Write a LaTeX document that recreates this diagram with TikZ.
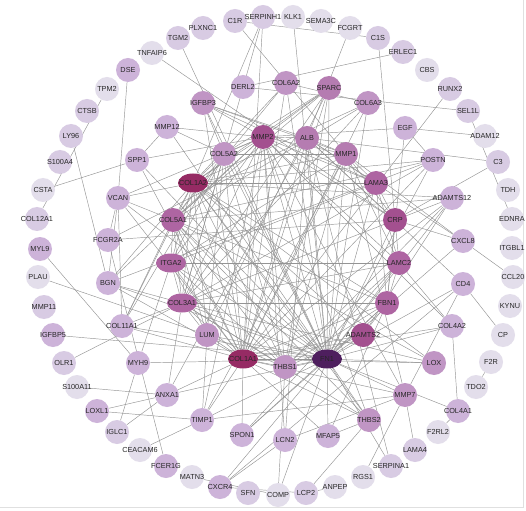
\documentclass[tikz,border=0pt]{standalone}
\usepackage{fontspec}
\newfontfamily\genefont{Liberation Sans}
\usepackage{tikz}
\usetikzlibrary{shapes.geometric, backgrounds}
\definecolor{lvA}{HTML}{E3DEEB}
\definecolor{lvB}{HTML}{D8CBE3}
\definecolor{lvC}{HTML}{CDB3D9}
\definecolor{lvD}{HTML}{C095C4}
\definecolor{lvDD}{HTML}{B57CB1}
\definecolor{lvE}{HTML}{AE65A2}
\definecolor{lvEE}{HTML}{A3508F}
\definecolor{lvF}{HTML}{962B64}
\definecolor{lvG}{HTML}{4E1F5E}

% gene/x/y, grouped by shade
\def\tierA{TNFAIP6/152/53, TPM2/107/89, CSTA/43/190, PLAU/38/277, S100A11/77/387,
  CEACAM6/140/450, MATN3/192/477, COMP/278/495, ANPEP/335/487, RGS1/363/477,
  F2RL2/438/432, TDO2/476/387, F2R/491/362, CP/503/335, KYNU/510/306,
  CCL20/513/277, ITGBL1/512/248, EDNRA/512/219, TDH/508/190, ADAM12/485/136,
  CBS/427/70, FCGRT/350/28, SEMA3C/321/21, KLK1/293/17}
\def\tierB{C1R/235/21, PLXNC1/203/28, TGM2/178/38, CTSB/87/111, LY96/71/136,
  S100A4/60/162, COL12A1/37/219, MMP11/44/307, OLR1/64/363, IGLC1/117/432,
  SFN/248/493, LCP2/306/493, SERPINA1/391/466, LAMA4/415/450, C3/498/162,
  SEL1L/468/111, RUNX2/450/89, ERLEC1/403/52, C1S/378/38, SERPINH1/263/17}
\def\tierC{DSE/128/70, MYL9/40/249, IGFBP5/53/335, LOXL1/97/411, FCER1G/166/466,
  CXCR4/220/487, COL4A1/458/411, SPP1/137/160, VCAN/118/198, FCGR2A/108/240,
  BGN/108/283, COL11A1/122/326, MYH9/138/363, ANXA1/167/395, TIMP1/202/420,
  SPON1/242/435, LCN2/285/440, MFAP5/328/436, COL4A2/452/326, CD4/463/284,
  CXCL8/463/241, ADAMTS12/452/198, POSTN/433/160, EGF/405/128, DERL2/243/87,
  MMP12/167/127}
\def\tierD{IGFBP3/203/103, COL6A2/286/83, COL6A3/368/103, COL5A2/224/154,
  LUM/207/335, THBS1/285/367, THBS2/369/420, MMP7/405/395, LOX/434/363}
\def\tierDD{SPARC/329/88, ALB/307/138, MMP1/346/154}
\def\tierE{COL5A1/173/220, LAMA3/376/183, LAMC2/399/263, FBN1/387/303}
\def\tierEE{MMP2/263/137, CRP/395/220, ADAMTS2/363/335}
\def\tierH{ITGA2/171/263/lvE, COL3A1/182/303/lvE, COL1A2/193/183/lvF,
  COL1A1/243/359/lvF, FN1/327/359/lvG}

\begin{document}
\begin{tikzpicture}[x=1pt, y=-1pt,
    gene/.style={circle, minimum size=24pt, inner sep=0pt},
    hub/.style={ellipse, minimum width=30pt, minimum height=19pt, inner sep=0pt},
    tag/.style={font=\genefont\fontsize{7.3}{8}\selectfont, text=black!85, inner sep=0pt},
    link/.style={draw=black!42, line width=0.45pt}
  ]
  \useasboundingbox (0,0) rectangle (526,510);

  \foreach \n/\x/\y in \tierA {\node[gene, fill=lvA] (\n) at (\x,\y) {};}
  \foreach \n/\x/\y in \tierB {\node[gene, fill=lvB] (\n) at (\x,\y) {};}
  \foreach \n/\x/\y in \tierC {\node[gene, fill=lvC] (\n) at (\x,\y) {};}
  \foreach \n/\x/\y in \tierD {\node[gene, fill=lvD] (\n) at (\x,\y) {};}
  \foreach \n/\x/\y in \tierDD {\node[gene, fill=lvDD] (\n) at (\x,\y) {};}
  \foreach \n/\x/\y in \tierE {\node[gene, fill=lvE] (\n) at (\x,\y) {};}
  \foreach \n/\x/\y in \tierEE {\node[gene, fill=lvEE] (\n) at (\x,\y) {};}
  \foreach \n/\x/\y/\c in \tierH {\node[hub, fill=\c] (\n) at (\x,\y) {};}

  % labels on top of every disc
  \foreach \n/\x/\y in \tierA {\node[tag] at (\n) {\n};}
  \foreach \n/\x/\y in \tierB {\node[tag] at (\n) {\n};}
  \foreach \n/\x/\y in \tierC {\node[tag] at (\n) {\n};}
  \foreach \n/\x/\y in \tierD {\node[tag] at (\n) {\n};}
  \foreach \n/\x/\y in \tierDD {\node[tag] at (\n) {\n};}
  \foreach \n/\x/\y in \tierE {\node[tag] at (\n) {\n};}
  \foreach \n/\x/\y in \tierEE {\node[tag] at (\n) {\n};}
  \foreach \n/\x/\y/\c in \tierH {\node[tag] at (\n) {\n};}

  \begin{scope}[on background layer]
    \fill[white] (0,0) rectangle (526,510);
    \draw[black!12, line width=0.6pt] (523,0) -- (523,507) -- (0,507);
    % outer ring
    \foreach \a/\b in {C1R/SERPINH1, C1R/C1S, C1R/MMP1, SERPINH1/COL1A1,
        SERPINH1/COL1A2, SERPINH1/COL3A1, KLK1/FN1, FCGRT/ALB, C1S/CRP,
        ERLEC1/DERL2, DERL2/SEL1L, SEL1L/EDNRA, RUNX2/COL1A1, ADAM12/EGF,
        C3/ALB, C3/CRP, CXCL8/CCL20, CD4/CP, F2R/TDO2, COL4A1/F2RL2,
        COL4A1/COL4A2, COL4A1/FN1, LAMA4/MMP7, SERPINA1/FN1, SERPINA1/ALB,
        RGS1/MMP7, LCP2/ANPEP, LCP2/THBS2, CXCR4/LCP2, CXCR4/LCN2, CXCR4/FN1,
        CXCR4/CD4, MATN3/COMP, COMP/THBS1, COMP/FN1, FCER1G/FCGR2A,
        CEACAM6/TIMP1, IGLC1/MYH9, IGLC1/ANXA1, LOXL1/ANXA1, LOXL1/TIMP1,
        S100A11/ANXA1, OLR1/COL3A1, IGFBP5/FN1, PLAU/LUM, MYL9/MYH9,
        TPM2/COL12A1, LY96/BGN, CSTA/SPP1, TNFAIP6/CRP, TGM2/FN1, DSE/VCAN}
      \draw[link] (\a) -- (\b);
    % middle ring
    \foreach \a/\b in {SPP1/MMP12, SPP1/FN1, SPP1/COL1A1, SPP1/MMP2,
        MMP12/MMP2, MMP12/COL5A2, MMP12/FN1, IGFBP3/MMP2, IGFBP3/COL5A2,
        IGFBP3/FN1, IGFBP3/MMP1, IGFBP3/COL1A1, IGFBP3/LAMA3, IGFBP3/ALB,
        COL6A2/COL6A3, COL6A2/COL1A1, COL6A2/COL1A2, COL6A2/FN1,
        COL6A2/COL5A1, SPARC/COL1A1, SPARC/COL1A2, SPARC/COL3A1, SPARC/FN1,
        SPARC/COL5A1, SPARC/COL5A2, SPARC/MMP2, SPARC/THBS1, SPARC/LUM,
        COL6A3/COL1A1, COL6A3/COL1A2, COL6A3/COL3A1, COL6A3/FN1,
        COL6A3/COL5A1, EGF/POSTN, EGF/FBN1, EGF/MMP2, POSTN/COL1A1,
        POSTN/COL1A2, POSTN/FN1, POSTN/COL3A1, POSTN/COL5A1, POSTN/BGN,
        ADAMTS12/FN1, ADAMTS12/COL1A1, ADAMTS12/COL1A2, ADAMTS12/ADAMTS2,
        ADAMTS12/COL3A1, ADAMTS12/COL5A1, ADAMTS12/THBS1, CXCL8/ALB,
        CXCL8/FN1, CXCL8/MMP1, CXCL8/CRP, CD4/ALB, CD4/FN1, CD4/MMP7,
        COL4A2/FN1, COL4A2/COL1A1, COL4A2/MMP2, COL4A2/LAMC2, LOX/COL1A1,
        LOX/COL1A2, LOX/COL3A1, LOX/FN1, LOX/COL5A1, MMP7/FN1, MMP7/MMP2,
        MMP7/MMP1, MMP7/COL1A1, MMP7/TIMP1, THBS2/FN1, THBS2/COL1A1,
        THBS2/COL1A2, THBS2/COL3A1, THBS2/MFAP5, THBS2/MMP2, THBS2/COL5A1,
        MFAP5/FBN1, MFAP5/COL1A1, MFAP5/FN1, LCN2/MMP2, LCN2/ALB, LCN2/MMP7,
        SPON1/COL1A1, SPON1/FN1, SPON1/FBN1, SPON1/LAMC2, TIMP1/MMP2,
        TIMP1/MMP1, TIMP1/FN1, TIMP1/LUM, TIMP1/COL1A1, ANXA1/FN1,
        ANXA1/COL1A1, ANXA1/COL3A1, ANXA1/ALB, MYH9/FN1, MYH9/ITGA2,
        COL11A1/COL1A1, COL11A1/COL1A2, COL11A1/COL5A1, COL11A1/COL5A2,
        COL11A1/COL3A1, COL11A1/FN1, BGN/COL1A1, BGN/COL1A2, BGN/COL3A1,
        BGN/VCAN, BGN/FN1, BGN/MMP2, FCGR2A/CRP, FCGR2A/VCAN, FCGR2A/ALB,
        VCAN/COL1A1, VCAN/FN1, VCAN/COL5A1, VCAN/COL1A2, VCAN/COL11A1,
        VCAN/MMP2}
      \draw[link] (\a) -- (\b);
    % inner ring
    \foreach \a/\b in {COL1A2/COL5A2, COL1A2/COL5A1, COL1A2/COL3A1,
        COL1A2/ITGA2, COL1A2/LUM, COL1A2/COL1A1, COL1A2/FN1, COL1A2/MMP2,
        COL1A2/MMP1, COL1A2/LAMA3, COL1A2/FBN1, COL1A2/ADAMTS2,
        COL1A2/THBS1, COL1A1/COL5A2, COL1A1/COL5A1, COL1A1/COL3A1,
        COL1A1/ITGA2, COL1A1/LUM, COL1A1/FN1, COL1A1/MMP2, COL1A1/MMP1,
        COL1A1/ALB, COL1A1/FBN1, COL1A1/ADAMTS2, COL1A1/THBS1, FN1/COL5A2,
        FN1/COL5A1, FN1/COL3A1, FN1/ITGA2, FN1/LUM, FN1/MMP2, FN1/MMP1,
        FN1/ALB, FN1/LAMA3, FN1/CRP, FN1/LAMC2, FN1/FBN1, FN1/ADAMTS2,
        FN1/THBS1, COL3A1/COL5A2, COL3A1/COL5A1, COL3A1/ITGA2, COL3A1/LUM,
        COL3A1/MMP2, COL3A1/FBN1, COL3A1/THBS1, COL3A1/LAMC2,
        COL5A1/COL5A2, COL5A1/ITGA2, COL5A1/LUM, COL5A1/MMP2, COL5A1/FBN1,
        COL5A1/THBS1, COL5A2/ITGA2, COL5A2/LUM, COL5A2/MMP2, COL5A2/MMP1,
        COL5A2/THBS1, ITGA2/MMP2, ITGA2/MMP1, ITGA2/LAMA3, ITGA2/LAMC2,
        ITGA2/THBS1, ITGA2/LUM, MMP2/MMP1, MMP2/ALB, MMP2/LAMA3, MMP2/LAMC2,
        MMP2/THBS1, MMP2/CRP, ALB/MMP1, ALB/CRP, ALB/LAMA3, MMP1/LAMA3,
        MMP1/LAMC2, MMP1/CRP, MMP1/THBS1, LAMA3/LAMC2, LAMA3/CRP,
        LAMA3/FBN1, CRP/LAMC2, CRP/FBN1, LAMC2/FBN1, LAMC2/THBS1,
        FBN1/ADAMTS2, FBN1/THBS1, ADAMTS2/THBS1, THBS1/LUM}
      \draw[link] (\a) -- (\b);
  \end{scope}
\end{tikzpicture}
\end{document}
